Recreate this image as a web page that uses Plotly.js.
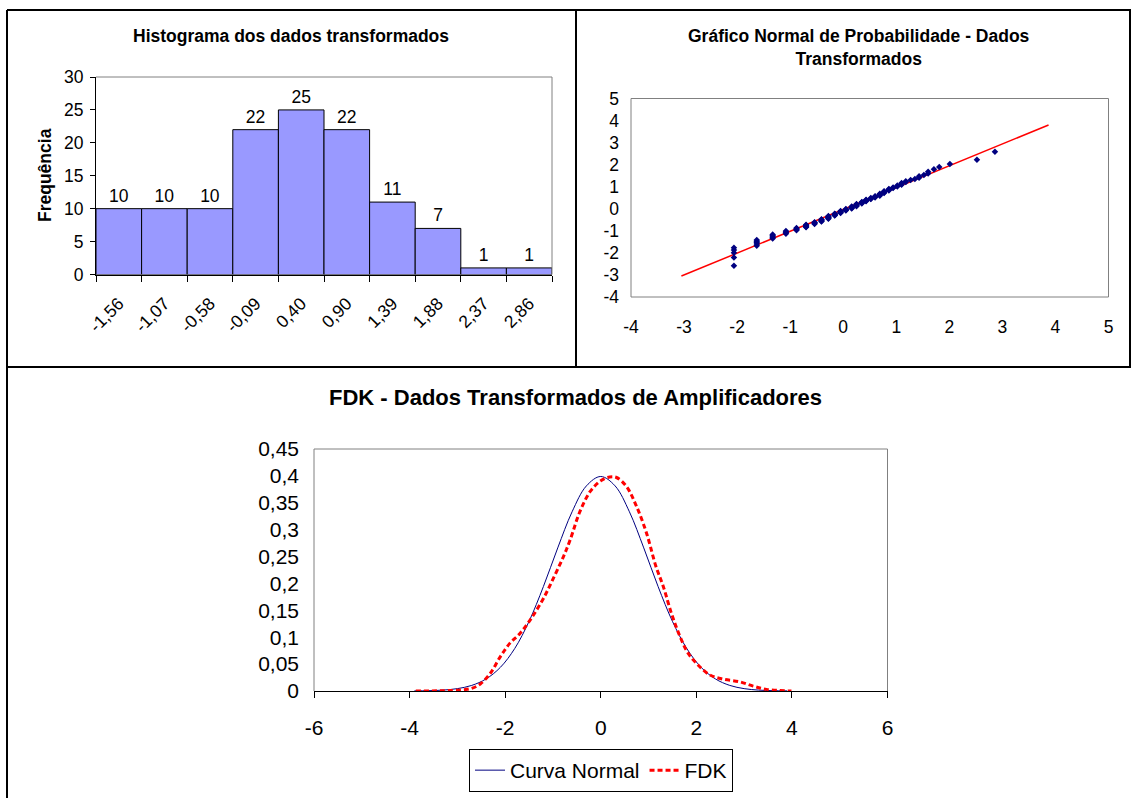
<!DOCTYPE html>
<html>
<head>
<meta charset="utf-8">
<script src="https://cdn.plot.ly/plotly-3.0.1.min.js"></script>
<style>
  html, body { margin: 0; padding: 0; background: #ffffff; }
  #chart { width: 1131px; height: 798px; }
</style>
</head>
<body>
<div id="chart"></div>
<script>
// Histogram of the transformed data
const binLabels = ['-1,56', '-1,07', '-0,58', '-0,09', '0,40', '0,90', '1,39', '1,88', '2,37', '2,86'];
const binCounts = [10, 10, 10, 22, 25, 22, 11, 7, 1, 1];

// Normal probability plot: transformed value (x) vs. normal score (y)
const qqX = [
  -2.06, -2.06, -2.06, -2.06, -2.06,
  -1.63, -1.63, -1.63, -1.63, -1.63,
  -1.33, -1.33, -1.33, -1.33, -1.33,
  -1.08, -1.08, -1.08, -1.08,
  -0.88, -0.88, -0.88, -0.88,
  -0.70, -0.70, -0.70, -0.70, -0.70,
  -0.54, -0.54, -0.54, -0.54,
  -0.41, -0.41, -0.41, -0.41, -0.41,
  -0.28, -0.28, -0.28, -0.28, -0.28, -0.28,
  -0.16, -0.16, -0.16, -0.16, -0.16,
  -0.05, -0.05, -0.05, -0.05, -0.05,
  0.05, 0.05, 0.05, 0.05,
  0.16, 0.16, 0.16, 0.16, 0.16,
  0.25, 0.25, 0.25, 0.25, 0.25,
  0.35, 0.35, 0.35, 0.35,
  0.43, 0.43, 0.43, 0.43,
  0.52, 0.52, 0.52,
  0.60, 0.60, 0.60,
  0.69, 0.69, 0.69, 0.69,
  0.77, 0.77, 0.77, 0.77,
  0.86, 0.86, 0.86,
  0.94, 0.94,
  1.02, 1.02,
  1.10, 1.10, 1.10,
  1.18, 1.18,
  1.27, 1.35,
  1.43, 1.43,
  1.52,
  1.60, 1.60,
  1.71, 1.81, 2.01, 2.52, 2.86
];
const qqY = [
  -2.58, -2.21, -1.99, -1.87, -1.77,
  -1.68, -1.60, -1.53, -1.47, -1.41,
  -1.35, -1.30, -1.25, -1.21, -1.17,
  -1.13, -1.09, -1.05, -1.01,
  -0.97, -0.94, -0.91, -0.87,
  -0.84, -0.81, -0.78, -0.75, -0.72,
  -0.69, -0.66, -0.63, -0.61,
  -0.58, -0.55, -0.53, -0.50, -0.48,
  -0.45, -0.43, -0.40, -0.38, -0.36, -0.33,
  -0.31, -0.29, -0.26, -0.24, -0.22,
  -0.19, -0.17, -0.15, -0.12, -0.10,
  -0.08, -0.06, -0.03, -0.01,
  0.01, 0.03, 0.06, 0.08, 0.10,
  0.12, 0.15, 0.17, 0.19, 0.22,
  0.24, 0.27, 0.29, 0.31,
  0.34, 0.36, 0.39, 0.41,
  0.44, 0.46, 0.49,
  0.51, 0.54, 0.57,
  0.59, 0.62, 0.65, 0.68,
  0.71, 0.74, 0.77, 0.80,
  0.83, 0.87, 0.90,
  0.94, 0.97,
  1.01, 1.05,
  1.09, 1.13, 1.17,
  1.21, 1.25,
  1.30, 1.35,
  1.41, 1.47,
  1.53,
  1.60, 1.68,
  1.79, 1.89, 2.03, 2.22, 2.58
];
// Reference line of the probability plot
const refX = [-3.05, 3.87];
const refY = [-3.05, 3.80];

// Standard normal density ("Curva Normal")
const normX = [-3.9, -3.6, -3.3, -3.0, -2.7, -2.4, -2.1, -1.8, -1.5, -1.2, -0.9, -0.6, -0.3, 0,
               0.3, 0.6, 0.9, 1.2, 1.5, 1.8, 2.1, 2.4, 2.7, 3.0, 3.3, 3.6, 3.9];
const normY = [0.0002, 0.0006, 0.0017, 0.0044, 0.0104, 0.0224, 0.0440, 0.0790, 0.1295, 0.1942, 0.2661, 0.3332, 0.3814, 0.3989,
               0.3814, 0.3332, 0.2661, 0.1942, 0.1295, 0.0790, 0.0440, 0.0224, 0.0104, 0.0044, 0.0017, 0.0006, 0.0002];

// Kernel density estimate of the transformed data ("FDK")
const fdkX = [-3.87, -3.3, -2.9, -2.7, -2.52, -2.31, -2.10, -1.90, -1.69, -1.44, -1.20, -0.99, -0.78, -0.64,
              -0.43, -0.22, 0.0, 0.19, 0.33, 0.54, 0.75, 0.96, 1.15, 1.31, 1.48, 1.66, 1.83, 2.04, 2.28,
              2.56, 2.91, 3.19, 3.47, 3.99];
const fdkY = [0, 0.0005, 0.002, 0.005, 0.013, 0.033, 0.064, 0.089, 0.107, 0.137, 0.172, 0.210, 0.250, 0.281,
              0.335, 0.371, 0.391, 0.398, 0.397, 0.380, 0.343, 0.293, 0.233, 0.194, 0.144, 0.101, 0.070, 0.048, 0.030,
              0.022, 0.017, 0.009, 0.003, 0];

// Axis tick labels
const qqTicks = [-4, -3, -2, -1, 0, 1, 2, 3, 4, 5];
const qqTickText = ['-4', '-3', '-2', '-1', '0', '1', '2', '3', '4', '5'];
const densXTicks = [-6, -4, -2, 0, 2, 4, 6];
const densXTickText = ['-6', '-4', '-2', '0', '2', '4', '6'];
const densYTicks = [0, 0.05, 0.1, 0.15, 0.2, 0.25, 0.3, 0.35, 0.4, 0.45];
const densYTickText = ['0', '0,05', '0,1', '0,15', '0,2', '0,25', '0,3', '0,35', '0,4', '0,45'];

const FONT = 'Liberation Sans, Arial, Helvetica, sans-serif';
const W = 1131, H = 798;
const px = v => v / W;
const py = v => 1 - v / H;

const traces = [
  {
    type: 'bar', x: binLabels, y: binCounts, xaxis: 'x', yaxis: 'y',
    width: 1,
    marker: { color: '#9999FF', line: { color: '#000000', width: 1 } },
    text: binCounts.map(String), textposition: 'outside', cliponaxis: false,
    constraintext: 'none',
    textfont: { family: FONT, size: 17.5, color: '#000000' },
    hoverinfo: 'x+y', showlegend: false
  },
  {
    type: 'scatter', mode: 'lines', x: refX, y: refY, xaxis: 'x2', yaxis: 'y2',
    line: { color: '#FF0000', width: 1.5 }, showlegend: false
  },
  {
    type: 'scatter', mode: 'markers', x: qqX, y: qqY, xaxis: 'x2', yaxis: 'y2',
    marker: { symbol: 'diamond', size: 5, color: '#000080' }, showlegend: false
  },
  {
    type: 'scatter', mode: 'lines', name: 'Curva Normal', x: normX, y: normY, xaxis: 'x3', yaxis: 'y3',
    line: { color: '#000080', width: 1, shape: 'spline' }
  },
  {
    type: 'scatter', mode: 'lines', name: 'FDK', x: fdkX, y: fdkY, xaxis: 'x3', yaxis: 'y3',
    line: { color: '#FF0000', width: 3, dash: '5px,3px', shape: 'spline' }
  }
];

const tickFontTop = { family: FONT, size: 17.5, color: '#000000' };
const tickFontBottom = { family: FONT, size: 21, color: '#000000' };

const layout = {
  width: W, height: H,
  margin: { l: 0, r: 0, t: 0, b: 0 },
  paper_bgcolor: '#FFFFFF', plot_bgcolor: '#FFFFFF',
  font: { family: FONT, color: '#000000' },
  separators: ', ',
  bargap: 0,
  showlegend: true,
  legend: {
    orientation: 'h', x: px(601), xanchor: 'center', y: py(749), yanchor: 'top',
    bordercolor: '#000000', borderwidth: 1, bgcolor: '#FFFFFF',
    font: { family: FONT, size: 21, color: '#000000' },
    tracegroupgap: 0, itemwidth: 30
  },
  xaxis: {
    domain: [px(96), px(552)], anchor: 'y', type: 'category',
    range: [-0.5, 9.5], tickson: 'boundaries',
    ticks: 'outside', ticklen: 6, tickcolor: '#000000', tickwidth: 1,
    tickangle: -45, tickfont: tickFontTop, ticklabelstandoff: 11,
    showline: true, linecolor: '#000000', linewidth: 1,
    showgrid: false, zeroline: false, fixedrange: true
  },
  yaxis: {
    domain: [py(274.5), py(77)], anchor: 'x',
    range: [0, 30], tickvals: [0, 5, 10, 15, 20, 25, 30],
    ticks: 'outside', ticklen: 5, tickcolor: '#000000', tickwidth: 1,
    tickfont: tickFontTop, ticklabelstandoff: 3,
    showline: true, linecolor: '#000000', linewidth: 1,
    showgrid: false, zeroline: false, fixedrange: true
  },
  xaxis2: {
    domain: [px(631), px(1108.5)], anchor: 'y2',
    range: [-4, 5], tickvals: qqTicks, ticktext: qqTickText,
    ticks: '', tickfont: tickFontTop, ticklabelstandoff: 17,
    showline: false, showgrid: false, zeroline: false, fixedrange: true
  },
  yaxis2: {
    domain: [py(297), py(98.5)], anchor: 'x2',
    range: [-4, 5], tickvals: qqTicks, ticktext: qqTickText,
    ticks: '', tickfont: tickFontTop, ticklabelstandoff: 11,
    showline: false, showgrid: false, zeroline: false, fixedrange: true
  },
  xaxis3: {
    domain: [px(314), px(887.5)], anchor: 'y3',
    range: [-6, 6], tickvals: densXTicks, ticktext: densXTickText,
    ticks: 'outside', ticklen: 6, tickcolor: '#000000', tickwidth: 1,
    tickfont: tickFontBottom, ticklabelstandoff: 12,
    showline: true, linecolor: '#000000', linewidth: 1,
    showgrid: false, zeroline: false, fixedrange: true
  },
  yaxis3: {
    domain: [py(691), py(449)], anchor: 'x3',
    range: [0, 0.45], tickvals: densYTicks, ticktext: densYTickText,
    ticks: '', tickfont: tickFontBottom, ticklabelstandoff: 14,
    showline: false, showgrid: false, zeroline: false, fixedrange: true
  },
  annotations: [
    { text: 'Histograma dos dados transformados', x: px(291), y: py(36), xref: 'paper', yref: 'paper',
      xanchor: 'center', yanchor: 'middle', showarrow: false,
      font: { family: FONT, size: 17.5, weight: 700, color: '#000000' } },
    { text: 'Frequência', x: px(45), y: py(175), xref: 'paper', yref: 'paper', textangle: -90,
      xanchor: 'center', yanchor: 'middle', showarrow: false,
      font: { family: FONT, size: 17.5, weight: 700, color: '#000000' } },
    { text: 'Gráfico Normal de Probabilidade - Dados<br>Transformados', x: px(859), y: py(47), xref: 'paper', yref: 'paper',
      xanchor: 'center', yanchor: 'middle', showarrow: false,
      font: { family: FONT, size: 17.5, weight: 700, color: '#000000' } },
    { text: 'FDK - Dados Transformados de Amplificadores', x: px(575), y: py(397), xref: 'paper', yref: 'paper',
      xanchor: 'center', yanchor: 'middle', showarrow: false,
      font: { family: FONT, size: 22, weight: 700, color: '#000000' } }
  ],
  shapes: [
    // panel frame
    { type: 'line', xref: 'paper', yref: 'paper', x0: px(7), x1: px(1131), y0: py(10), y1: py(10), line: { color: '#000000', width: 2 } },
    { type: 'line', xref: 'paper', yref: 'paper', x0: px(7), x1: px(7), y0: py(10), y1: 0, line: { color: '#000000', width: 2 } },
    { type: 'line', xref: 'paper', yref: 'paper', x0: px(1130), x1: px(1130), y0: py(10), y1: py(367), line: { color: '#000000', width: 2 } },
    { type: 'line', xref: 'paper', yref: 'paper', x0: px(576), x1: px(576), y0: py(10), y1: py(367), line: { color: '#000000', width: 2 } },
    { type: 'line', xref: 'paper', yref: 'paper', x0: px(7), x1: px(1131), y0: py(367), y1: py(367), line: { color: '#000000', width: 2 } },
    // plot area borders (grey)
    { type: 'line', xref: 'x domain', yref: 'y domain', x0: 0, x1: 1, y0: 1, y1: 1, line: { color: '#808080', width: 1 } },
    { type: 'line', xref: 'x domain', yref: 'y domain', x0: 1, x1: 1, y0: 0, y1: 1, line: { color: '#808080', width: 1 } },
    { type: 'rect', xref: 'x2 domain', yref: 'y2 domain', x0: 0, x1: 1, y0: 0, y1: 1, line: { color: '#808080', width: 1 }, layer: 'below' },
    { type: 'line', xref: 'x3 domain', yref: 'y3 domain', x0: 0, x1: 1, y0: 1, y1: 1, line: { color: '#808080', width: 1 } },
    { type: 'line', xref: 'x3 domain', yref: 'y3 domain', x0: 1, x1: 1, y0: 0, y1: 1, line: { color: '#808080', width: 1 } },
    { type: 'line', xref: 'x3 domain', yref: 'y3 domain', x0: 0, x1: 0, y0: 0, y1: 1, line: { color: '#808080', width: 1 } }
  ]
};

Plotly.newPlot('chart', traces, layout, { displayModeBar: false, staticPlot: true });
</script>
</body>
</html>
